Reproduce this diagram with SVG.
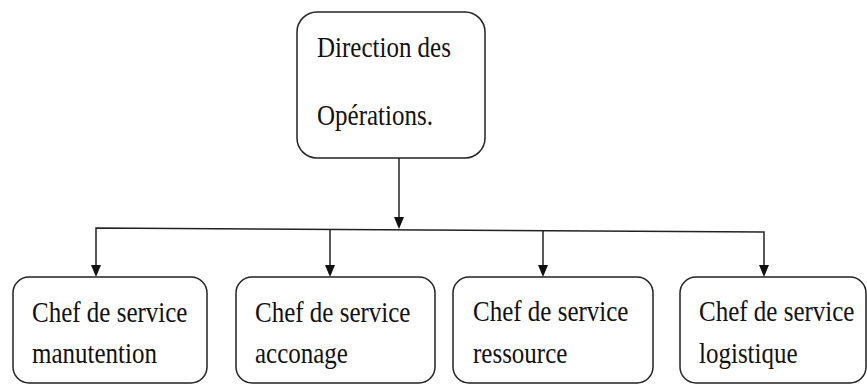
<svg xmlns="http://www.w3.org/2000/svg" width="867" height="385" viewBox="0 0 867 385">
<style>
.box{fill:#fff;stroke:#222;stroke-width:1.5}
.c{fill:none;stroke:#222;stroke-width:1.5}
.a{fill:#111}
</style>
<rect width="867" height="385" fill="#fff"/>
<g id="connectors">
<line class="c" x1="399" y1="158" x2="399" y2="218"/>
<path class="a" d="M394,217 L404,217 L399,229 Z"/>
<polyline class="c" points="96,266 96,228 764,232 764,266"/>
<path class="a" d="M91,265 L101,265 L96,277 Z"/>
<line class="c" x1="330" y1="229" x2="330" y2="266"/>
<path class="a" d="M325,265 L335,265 L330,277 Z"/>
<line class="c" x1="543" y1="230" x2="543" y2="266"/>
<path class="a" d="M538,265 L548,265 L543,277 Z"/>
<path class="a" d="M759,265 L769,265 L764,277 Z"/>
</g>
<g font-family="Liberation Serif, serif" font-size="25" fill="#111">
<g id="direction">
<rect class="box" x="297" y="12" width="188" height="146" rx="20"/>
<text transform="translate(317,57) scale(1,1.22)">Direction des</text>
<text transform="translate(317,125) scale(1,1.22)">Opérations.</text>
</g>
<g id="manutention">
<rect class="box" x="13" y="277" width="194" height="106" rx="16"/>
<text transform="translate(32,322) scale(1,1.22)">Chef de service</text>
<text transform="translate(32,363) scale(1,1.22)">manutention</text>
</g>
<g id="acconage">
<rect class="box" x="236" y="277" width="199" height="106" rx="16"/>
<text transform="translate(255,322) scale(1,1.22)">Chef de service</text>
<text transform="translate(255,363) scale(1,1.22)">acconage</text>
</g>
<g id="ressource">
<rect class="box" x="453" y="277" width="200" height="106" rx="16"/>
<text transform="translate(473,321) scale(1,1.22)">Chef de service</text>
<text transform="translate(473,363) scale(1,1.22)">ressource</text>
</g>
<g id="logistique">
<rect class="box" x="680" y="277" width="186" height="106" rx="16"/>
<text transform="translate(699,321) scale(1,1.22)">Chef de service</text>
<text transform="translate(699,363) scale(1,1.22)">logistique</text>
</g>
</g>
</svg>
